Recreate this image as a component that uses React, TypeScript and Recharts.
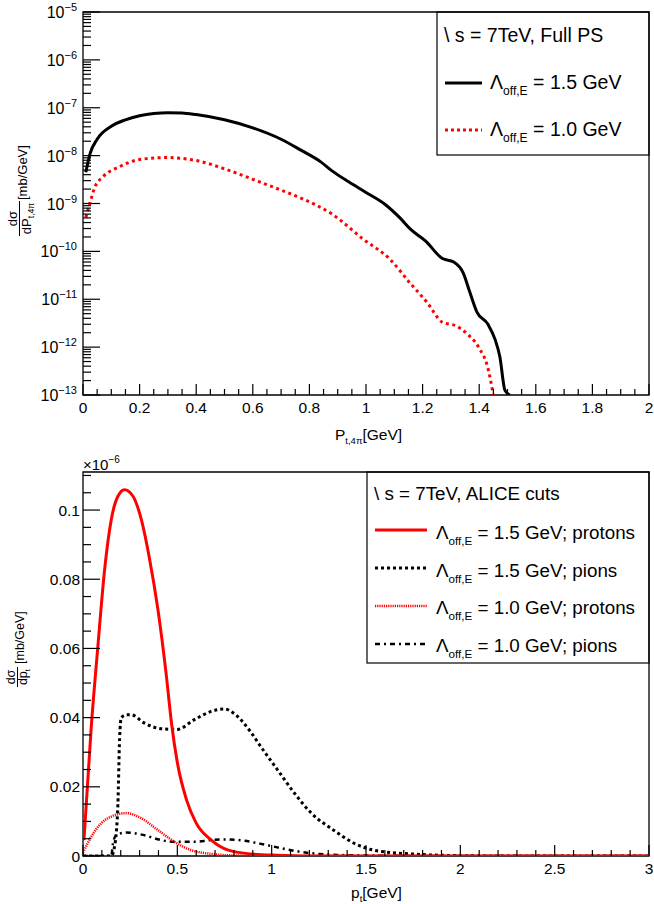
import { LineChart, Line, XAxis, YAxis, ReferenceArea } from "recharts";

const FONT = '"Liberation Sans", Arial, Helvetica, sans-serif';
const RED = "#ff0000";

// top panel: full phase space, dsigma/dPt in mb/GeV (log scale)
const fullX15 = [0.01, 0.025, 0.05, 0.1, 0.15, 0.2, 0.25, 0.3, 0.35, 0.4, 0.5, 0.6, 0.7, 0.77, 0.84, 0.88, 0.94, 1.0, 1.07, 1.12, 1.16, 1.21, 1.27, 1.31, 1.343, 1.367, 1.392, 1.431, 1.456, 1.473, 1.491, 1.509];
const fullY15 = [4.5e-9, 1.1e-8, 2.2e-8, 4.1e-8, 5.6e-8, 6.8e-8, 7.6e-8, 7.9e-8, 7.8e-8, 7.2e-8, 5.6e-8, 3.8e-8, 2.2e-8, 1.3e-8, 7.4e-9, 4.8e-9, 2.8e-9, 1.7e-9, 9.3e-10, 5.0e-10, 2.8e-10, 1.65e-10, 7.1e-11, 6.0e-11, 3.6e-11, 1.4e-11, 5.4e-12, 3.0e-12, 1.45e-12, 6.3e-13, 1.25e-13, 1.0e-13];
const fullX10 = [0.01, 0.025, 0.042, 0.07, 0.13, 0.2, 0.3, 0.4, 0.5, 0.6, 0.7, 0.77, 0.88, 0.99, 1.085, 1.155, 1.215, 1.27, 1.32, 1.355, 1.4, 1.43, 1.45];
const fullY10 = [5.1e-10, 1.05e-9, 2.2e-9, 3.6e-9, 5.9e-9, 8.3e-9, 9.1e-9, 7.9e-9, 5.3e-9, 3.2e-9, 1.9e-9, 1.3e-9, 6.0e-10, 1.8e-10, 6.8e-11, 2.2e-11, 8.7e-12, 3.3e-12, 2.75e-12, 1.95e-12, 9.5e-13, 3.8e-13, 1.0e-13];

const topXMajor = [0, 0.2, 0.4, 0.6, 0.8, 1, 1.2, 1.4, 1.6, 1.8, 2];
const topYMajor = [1e-13, 1e-12, 1e-11, 1e-10, 1e-9, 1e-8, 1e-7, 1e-6, 1e-5];

// bottom panel: ALICE cuts, values in units of 1e-6 mb/GeV
const protons15X = [0.005, 0.044, 0.079, 0.115, 0.15, 0.185, 0.22, 0.265, 0.309, 0.353, 0.397, 0.44, 0.47, 0.5, 0.55, 0.6, 0.68, 0.77, 0.89, 1.03, 1.2, 1.5, 2, 2.5, 3];
const protons15Y = [0.0046, 0.0375, 0.0607, 0.083, 0.0973, 0.104, 0.1059, 0.104, 0.0973, 0.0858, 0.0713, 0.053, 0.038, 0.027, 0.016, 0.0095, 0.0046, 0.0017, 0.0006, 0.0002, 0, 0, 0, 0, 0];
const pions15X = [0, 0.05, 0.1, 0.15, 0.168, 0.185, 0.194, 0.203, 0.23, 0.256, 0.326, 0.414, 0.5, 0.59, 0.679, 0.75, 0.8, 0.887, 0.95, 1.03, 1.12, 1.21, 1.33, 1.44, 1.55, 1.77, 2.0, 2.2, 2.5, 3];
const pions15Y = [0, 0, 0, 0, 0.003, 0.015, 0.034, 0.04, 0.0408, 0.0408, 0.0384, 0.0368, 0.0366, 0.0394, 0.0418, 0.0425, 0.0412, 0.036, 0.031, 0.025, 0.0182, 0.0124, 0.0074, 0.0036, 0.0016, 0.0005, 0.0001, 0, 0, 0];
const protons10X = [0, 0.044, 0.097, 0.15, 0.229, 0.309, 0.397, 0.485, 0.573, 0.68, 0.77, 1.0, 1.5, 2, 2.5, 3];
const protons10Y = [0.001, 0.0056, 0.0095, 0.0114, 0.0124, 0.0109, 0.0075, 0.0041, 0.0017, 0.0006, 0.0002, 0, 0, 0, 0, 0];
const pions10X = [0, 0.05, 0.1, 0.15, 0.159, 0.176, 0.229, 0.326, 0.414, 0.485, 0.59, 0.679, 0.767, 0.855, 0.943, 1.03, 1.12, 1.21, 1.35, 1.6, 1.8, 2.2, 2.6, 3];
const pions10Y = [0, 0, 0, 0, 0.0037, 0.006, 0.0068, 0.006, 0.0046, 0.0041, 0.0041, 0.0046, 0.0048, 0.0044, 0.0035, 0.0025, 0.0015, 0.0008, 0.0003, 0.0001, 0, 0, 0, 0];

const botXMajor = [0, 0.5, 1, 1.5, 2, 2.5, 3];
const botYMajor = [0, 0.02, 0.04, 0.06, 0.08, 0.1];

const pts = (xs: number[], ys: number[]) => xs.map((x, i) => ({ x, y: ys[i] }));

const topXTicks = Array.from({ length: 41 }, (_, i) => +(i * 0.05).toFixed(2));
const topYTicks: number[] = [];
for (let d = -13; d < -5; d++) {
  for (let m = 1; m <= 9; m++) topYTicks.push(m * Math.pow(10, d));
}
topYTicks.push(1e-5);
const botXTicks = Array.from({ length: 31 }, (_, i) => +(i * 0.1).toFixed(1));
const botYTicks = Array.from({ length: 23 }, (_, i) => +(i * 0.005).toFixed(3));

const isMajor = (v: number, majors: number[]) =>
  majors.some((m) => Math.abs(m - v) <= 1e-6 * Math.abs(m) + 1e-15);

const fmt = (v: number) => String(+v.toFixed(3));

function XTick(props: any) {
  const { x, y, payload, majors } = props;
  const major = isMajor(payload.value, majors);
  return (
    <g>
      <line x1={x} x2={x} y1={y} y2={y - (major ? 11 : 6)} stroke="#000" strokeWidth={1.2} />
      {major && (
        <text x={x} y={y + 17.5} textAnchor="middle" fontSize={15.5} fontFamily={FONT} fill="#000">
          {fmt(payload.value)}
        </text>
      )}
    </g>
  );
}

function LogYTick(props: any) {
  const { x, y, payload } = props;
  const major = isMajor(payload.value, topYMajor);
  const exp = Math.round(Math.log10(payload.value));
  return (
    <g>
      <line x1={x} x2={x + (major ? 17 : 8)} y1={y} y2={y} stroke="#000" strokeWidth={1.2} />
      {major && (
        <text x={x - 6} y={y + 6} textAnchor="end" fontFamily={FONT} fill="#000">
          <tspan fontSize={16}>10</tspan>
          <tspan fontSize={11} dy={-7}>{`\u2212${-exp}`}</tspan>
        </text>
      )}
    </g>
  );
}

function LinYTick(props: any) {
  const { x, y, payload } = props;
  const major = isMajor(payload.value, botYMajor);
  return (
    <g>
      <line x1={x} x2={x + (major ? 17 : 8)} y1={y} y2={y} stroke="#000" strokeWidth={1.2} />
      {major && (
        <text x={x - 3} y={y + 5.5} textAnchor="end" fontSize={15.5} fontFamily={FONT} fill="#000">
          {fmt(payload.value)}
        </text>
      )}
    </g>
  );
}

function Lambda({ x, y, size, rest }: { x: number; y: number; size: number; rest: string }) {
  return (
    <text x={x} y={y} fontSize={size} fontFamily={FONT} fill="#000">
      Λ
      <tspan fontSize={size * 0.62} dy={size * 0.3}>off,E</tspan>
      <tspan dy={-size * 0.3}>{"\u00a0" + rest}</tspan>
    </text>
  );
}

const LEG = 19.5;
const LEG2 = 18.8;

function Overlay() {
  return (
    <svg width={654} height={904} style={{ position: "absolute", left: 0, top: 0, pointerEvents: "none" }}>
      {/* top legend */}
      <rect x={437} y={12} width={212} height={143} fill="none" stroke="#000" strokeWidth={1.2} />
      <text x={444} y={42} fontSize={LEG} fontFamily={FONT}>{"\\ s = 7TeV, Full PS"}</text>
      <line x1={445} x2={482} y1={83} y2={83} stroke="#000" strokeWidth={3} />
      <Lambda x={490} y={89} size={LEG} rest="= 1.5 GeV" />
      <line x1={445} x2={482} y1={130} y2={130} stroke={RED} strokeWidth={3} strokeDasharray="3 3" />
      <Lambda x={490} y={136} size={LEG} rest="= 1.0 GeV" />

      {/* top titles */}
      <g transform="translate(0,237) rotate(-90)" fontFamily={FONT} fill="#000">
        <text x={18.5} y={17} fontSize={13} textAnchor="middle">dσ</text>
        <line x1={1} x2={36} y1={19.5} y2={19.5} stroke="#000" strokeWidth={1} />
        <text x={18.5} y={31} fontSize={13} textAnchor="middle">
          dP<tspan fontSize={8.5} dy={3}>t,4π</tspan>
        </text>
        <text x={37} y={27} fontSize={13}>[mb/GeV]</text>
      </g>
      <text x={335} y={440} fontSize={15.5} fontFamily={FONT}>
        P<tspan fontSize={9.5} dy={4}>t,4π</tspan>
        <tspan dy={-4}>[GeV]</tspan>
      </text>

      {/* bottom legend */}
      <rect x={367} y={472} width={282} height={191} fill="none" stroke="#000" strokeWidth={1.2} />
      <text x={374} y={500} fontSize={LEG2} fontFamily={FONT}>{"\\ s = 7TeV, ALICE cuts"}</text>
      <line x1={375} x2={427} y1={530} y2={530} stroke={RED} strokeWidth={3} />
      <Lambda x={436} y={539} size={LEG2} rest="= 1.5 GeV; protons" />
      <line x1={375} x2={427} y1={568} y2={568} stroke="#000" strokeWidth={3} strokeDasharray="3 3" />
      <Lambda x={436} y={577} size={LEG2} rest="= 1.5 GeV; pions" />
      <line x1={375} x2={427} y1={606} y2={606} stroke={RED} strokeWidth={2.5} strokeDasharray="1.2 1" />
      <Lambda x={436} y={614} size={LEG2} rest="= 1.0 GeV; protons" />
      <line x1={375} x2={427} y1={644} y2={644} stroke="#000" strokeWidth={2.5} strokeDasharray="5 4 2 4" />
      <Lambda x={436} y={652} size={LEG2} rest="= 1.0 GeV; pions" />

      {/* bottom titles */}
      <text x={83} y={470} fontSize={15} fontFamily={FONT}>
        ×10<tspan fontSize={10} dy={-7}>−6</tspan>
      </text>
      <g transform="translate(0,688) rotate(-90)" fontFamily={FONT} fill="#000">
        <text x={11} y={15} fontSize={12.5} textAnchor="middle">dσ</text>
        <line x1={1} x2={21} y1={17.5} y2={17.5} stroke="#000" strokeWidth={1} />
        <text x={11} y={27} fontSize={12.5} textAnchor="middle">
          dp<tspan fontSize={8} dy={3}>t</tspan>
        </text>
        <text x={24} y={24} fontSize={12.5}>[mb/GeV]</text>
      </g>
      <text x={351} y={898} fontSize={15.5} fontFamily={FONT}>
        p<tspan fontSize={9.5} dy={4}>t</tspan>
        <tspan dy={-4}>[GeV]</tspan>
      </text>
    </svg>
  );
}

export default function App() {
  return (
    <div style={{ position: "absolute", left: 0, top: 0, width: 654, height: 904, background: "#fff" }}>
      <div style={{ position: "absolute", left: 0, top: 0 }}>
        <LineChart width={654} height={450} margin={{ top: 12, right: 5, bottom: 15, left: 13 }}>
          <XAxis
            dataKey="x"
            type="number"
            domain={[0, 2]}
            allowDataOverflow
            ticks={topXTicks}
            interval={0}
            height={40}
            tickSize={0}
            tickMargin={0}
            tickLine={false}
            axisLine={false}
            tick={(p: any) => <XTick {...p} majors={topXMajor} />}
          />
          <YAxis
            type="number"
            scale="log"
            domain={[1e-13, 1e-5]}
            allowDataOverflow
            ticks={topYTicks}
            interval={0}
            width={70}
            tickSize={0}
            tickMargin={0}
            tickLine={false}
            axisLine={false}
            tick={(p: any) => <LogYTick {...p} />}
          />
          <Line data={pts(fullX15, fullY15)} dataKey="y" type="monotone" stroke="#000" strokeWidth={3} dot={false} activeDot={false} isAnimationActive={false} />
          <Line data={pts(fullX10, fullY10)} dataKey="y" type="monotone" stroke={RED} strokeWidth={3} strokeDasharray="3 3.5" dot={false} activeDot={false} isAnimationActive={false} />
          <ReferenceArea x1={0} x2={2} y1={1e-13} y2={1e-5} fill="none" stroke="#000" strokeWidth={1.3} ifOverflow="visible" />
        </LineChart>
      </div>
      <div style={{ position: "absolute", left: 0, top: 450 }}>
        <LineChart width={654} height={454} margin={{ top: 22, right: 5, bottom: 8, left: 13 }}>
          <XAxis
            dataKey="x"
            type="number"
            domain={[0, 3]}
            allowDataOverflow
            ticks={botXTicks}
            interval={0}
            height={40}
            tickSize={0}
            tickMargin={0}
            tickLine={false}
            axisLine={false}
            tick={(p: any) => <XTick {...p} majors={botXMajor} />}
          />
          <YAxis
            type="number"
            domain={[0, 0.111]}
            allowDataOverflow
            ticks={botYTicks}
            interval={0}
            width={70}
            tickSize={0}
            tickMargin={0}
            tickLine={false}
            axisLine={false}
            tick={(p: any) => <LinYTick {...p} />}
          />
          <Line data={pts(pions10X, pions10Y)} dataKey="y" type="monotone" stroke="#000" strokeWidth={2.5} strokeDasharray="5 4 2 4" dot={false} activeDot={false} isAnimationActive={false} />
          <Line data={pts(protons10X, protons10Y)} dataKey="y" type="monotone" stroke={RED} strokeWidth={2.5} strokeDasharray="1.2 1" dot={false} activeDot={false} isAnimationActive={false} />
          <Line data={pts(pions15X, pions15Y)} dataKey="y" type="monotone" stroke="#000" strokeWidth={3} strokeDasharray="3 3" dot={false} activeDot={false} isAnimationActive={false} />
          <Line data={pts(protons15X, protons15Y)} dataKey="y" type="monotone" stroke={RED} strokeWidth={3} dot={false} activeDot={false} isAnimationActive={false} />
          <ReferenceArea x1={0} x2={3} y1={0} y2={0.111} fill="none" stroke="#000" strokeWidth={1.3} ifOverflow="visible" />
        </LineChart>
      </div>
      <Overlay />
    </div>
  );
}
